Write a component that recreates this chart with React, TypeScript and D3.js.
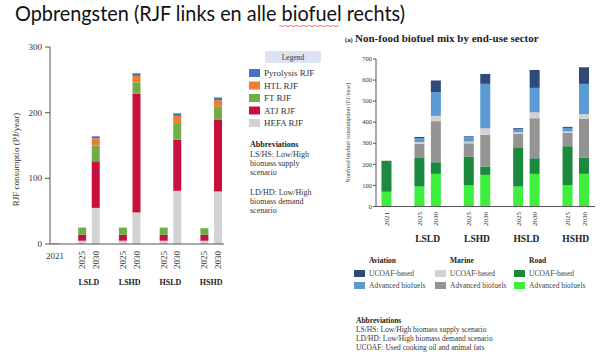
import React from "react";
import * as d3 from "d3";

// ---------- data ----------
const yearLabels = ["2021", "2025", "2030", "2025", "2030", "2025", "2030", "2025", "2030"];
const slots = [0, 2, 3, 5, 6, 8, 9, 11, 12];
const scenarios = ["LSLD", "LSHD", "HSLD", "HSHD"];

// Left: RJF consumption (PJ/year), bottom -> top
const leftSeriesNames = ["HEFA RJF", "ATJ RJF", "FT RJF", "HTL RJF", "Pyrolysis RJF"];
const leftColors = ["#d3d3d3", "#c8103e", "#70ad47", "#ed7d31", "#4472c4"];
const hefa = [0.8, 5, 55, 5, 48, 5, 81, 5, 80];
const atj = [0, 9, 71, 9, 181, 9, 78, 9, 109];
const ft = [0.6, 11, 24, 11, 17, 11, 25, 10, 20];
const htl = [0, 0, 11, 0, 10, 0, 11, 0, 10];
const pyro = [0, 0, 3, 0, 4, 0, 4, 0, 4];
const leftTicks = [0, 100, 200, 300];

// Right: non-food biofuel consumption (PJ/year), bottom -> top
const rightSeriesNames = [
  "Road Advanced biofuels",
  "Road UCOAF-based",
  "Marine Advanced biofuels",
  "Marine UCOAF-based",
  "Aviation Advanced biofuels",
  "Aviation UCOAF-based",
];
const rightColors = ["#3df03d", "#1b8a3e", "#949494", "#d2d2d2", "#5b9bd5", "#2f4a78"];
const roadAdv = [70, 95, 155, 100, 150, 95, 155, 100, 155];
const roadUco = [146, 135, 55, 137, 40, 186, 74, 186, 76];
const marAdv = [0, 68, 195, 63, 150, 64, 190, 63, 185];
const marUco = [4, 8, 25, 8, 31, 7, 28, 7, 23];
const avAdv = [0, 19, 113, 21, 211, 16, 116, 17, 143];
const avUco = [0, 5, 55, 4, 47, 4, 85, 5, 79];
const rightTicks = [0, 100, 200, 300, 400, 500, 600, 700];

const legendGroups = ["Aviation", "Marine", "Road"];
const legendItems = ["UCOAF-based", "Advanced biofuels"];
const legendGroupColors = [
  ["#2f4a78", "#5b9bd5"],
  ["#d2d2d2", "#949494"],
  ["#1b8a3e", "#3df03d"],
];

const SERIF = "'Liberation Serif', 'DejaVu Serif', serif";

function stackRows(series: number[][]) {
  return yearLabels.map((_, i) => {
    const row: Record<string, number> = {};
    series.forEach((s, k) => (row["s" + k] = s[i]));
    return row;
  });
}

export default function App() {
  // ---------- left chart ----------
  const xL = d3.scaleLinear().domain([0, 12]).range([55, 218]);
  const yL = d3.scaleLinear().domain([0, 300]).range([244, 47]);
  const leftKeys = leftSeriesNames.map((_, k) => "s" + k);
  const leftStack = d3.stack<Record<string, number>>().keys(leftKeys)(
    stackRows([hefa, atj, ft, htl, pyro])
  );
  const bwL = 8;

  // ---------- right chart ----------
  const xR = d3.scaleLinear().domain([0, 12]).range([386.5, 584]);
  const yR = d3.scaleLinear().domain([0, 700]).range([206.5, 59]);
  const rightKeys = rightSeriesNames.map((_, k) => "s" + k);
  const rightStack = d3.stack<Record<string, number>>().keys(rightKeys)(
    stackRows([roadAdv, roadUco, marAdv, marUco, avAdv, avUco])
  );
  const bwR = 10;

  const legendLeft = [...leftSeriesNames].reverse();
  const legendLeftColors = [...leftColors].reverse();

  return (
    <svg
      width={600}
      height={356}
      style={{ position: "absolute", left: 0, top: 0, background: "#fff" }}
      fontFamily={SERIF}
    >
      <rect width={600} height={356} fill="#fff" />
      {/* Slide title */}
      <text
        x={15}
        y={21}
        fontFamily="Lato, 'Open Sans', sans-serif"
        fontSize={21}
        fill="#111"
        textLength={390}
        lengthAdjust="spacingAndGlyphs"
      >
        Opbrengsten (RJF links en alle biofuel rechts)
      </text>
      <path
        d={d3.range(0, 62, 3).map((d, i) => `${i === 0 ? "M" : "L"}${279 + d},${i % 2 ? 26.5 : 25.5}`).join("")}
        fill="none"
        stroke="#e04040"
        strokeWidth={0.7}
      />

      {/* ===== Left chart ===== */}
      {leftStack.map((layer, k) =>
        layer.map((d, i) =>
          d[1] - d[0] > 0 ? (
            <rect
              key={`l${k}-${i}`}
              x={xL(slots[i]) - bwL / 2}
              y={yL(d[1])}
              width={bwL}
              height={yL(d[0]) - yL(d[1])}
              fill={i === 0 ? "#9a9a60" : leftColors[k]}
            />
          ) : null
        )
      )}
      <line x1={50} x2={50} y1={yL(300)} y2={yL(0)} stroke="#555" strokeWidth={1} />
      <line x1={50} x2={224} y1={yL(0)} y2={yL(0)} stroke="#555" strokeWidth={1} />
      {leftTicks.map((t) => (
        <g key={`lt${t}`}>
          <line x1={45} x2={50} y1={yL(t)} y2={yL(t)} stroke="#555" />
          <text x={42} y={yL(t) + 3} fontSize={9} textAnchor="end" fill="#333">
            {t}
          </text>
        </g>
      ))}
      <text
        transform={`translate(19,${(yL(0) + yL(300)) / 2 + 14}) rotate(-90)`}
        fontSize={9}
        textAnchor="middle"
        fill="#333"
      >
        RJF consumptio (PJ/year)
      </text>
      {yearLabels.map((y, i) =>
        i === 0 ? (
          <text key={`ly${i}`} x={xL(slots[i])} y={259} fontSize={9} textAnchor="middle" fill="#333">
            {y}
          </text>
        ) : (
          <text
            key={`ly${i}`}
            transform={`translate(${xL(slots[i]) + 3},${260}) rotate(-90)`}
            fontSize={9}
            textAnchor="middle"
            fill="#333"
          >
            {y}
          </text>
        )
      )}
      {scenarios.map((s, g) => (
        <text
          key={`ls${s}`}
          x={(xL(slots[1 + 2 * g]) + xL(slots[2 + 2 * g])) / 2}
          y={285}
          fontSize={8}
          fontWeight="bold"
          textAnchor="middle"
          fill="#222"
        >
          {s}
        </text>
      ))}

      {/* Left legend */}
      <rect x={265} y={51} width={56} height={12} rx={2} fill="#dde3f1" />
      <text x={293} y={60} fontSize={7.5} textAnchor="middle" fill="#333">
        Legend
      </text>
      {legendLeft.map((name, i) => (
        <g key={`ll${name}`}>
          <rect x={249} y={69 + i * 12.5} width={11} height={8} fill={legendLeftColors[i]} />
          <text x={264} y={76 + i * 12.5} fontSize={9} fill="#333">
            {name}
          </text>
        </g>
      ))}
      <text x={250} y={147} fontSize={8} fontWeight="bold" fill="#222">
        Abbreviations
      </text>
      {["LS/HS: Low/High", "biomass supply", "scenario"].map((t, i) => (
        <text key={`la${i}`} x={250} y={157 + i * 9} fontSize={8} fill="#333">
          {t}
        </text>
      ))}
      {["LD/HD: Low/High", "biomass demand", "scenario"].map((t, i) => (
        <text key={`lb${i}`} x={250} y={195 + i * 9} fontSize={8} fill="#333">
          {t}
        </text>
      ))}

      {/* ===== Right chart ===== */}
      <text x={345} y={42} fontSize={6.5} fontWeight="bold" fill="#222">
        (a)
      </text>
      <text x={355} y={42} fontSize={11} fontWeight="bold" fill="#222">
        Non-food biofuel mix by end-use sector
      </text>
      {rightStack.map((layer, k) =>
        layer.map((d, i) =>
          d[1] - d[0] > 0 ? (
            <rect
              key={`r${k}-${i}`}
              x={xR(slots[i]) - bwR / 2}
              y={yR(d[1])}
              width={bwR}
              height={yR(d[0]) - yR(d[1])}
              fill={rightColors[k]}
            />
          ) : null
        )
      )}
      <line x1={376} x2={376} y1={yR(700)} y2={yR(0)} stroke="#555" strokeWidth={1} />
      <line x1={376} x2={595} y1={yR(0)} y2={yR(0)} stroke="#555" strokeWidth={1} />
      {rightTicks.map((t) => (
        <g key={`rt${t}`}>
          <line x1={373} x2={376} y1={yR(t)} y2={yR(t)} stroke="#555" />
          <text x={372} y={yR(t) + 2.2} fontSize={6.5} textAnchor="end" fill="#333">
            {t}
          </text>
        </g>
      ))}
      <text
        transform={`translate(350,${(yR(0) + yR(700)) / 2}) rotate(-90)`}
        fontSize={6.3}
        textAnchor="middle"
        fill="#444"
      >
        Nonfood biofuel consumption (PJ/year)
      </text>
      {yearLabels.map((y, i) => (
        <text
          key={`ry${i}`}
          transform={`translate(${xR(slots[i]) + 2.5},${219}) rotate(-90)`}
          fontSize={7}
          textAnchor="middle"
          fill="#333"
        >
          {y}
        </text>
      ))}
      {scenarios.map((s, g) => (
        <text
          key={`rs${s}`}
          x={(xR(slots[1 + 2 * g]) + xR(slots[2 + 2 * g])) / 2}
          y={242}
          fontSize={9.5}
          fontWeight="bold"
          textAnchor="middle"
          fill="#222"
        >
          {s}
        </text>
      ))}

      {/* Right legend */}
      {legendGroups.map((g, c) => {
        const sx = [354, 435, 514][c];
        return (
          <g key={`rg${g}`}>
            <text x={sx + 15} y={263} fontSize={7.5} fontWeight="bold" fill="#222">
              {g}
            </text>
            {legendItems.map((it, r) => (
              <g key={`ri${g}${r}`}>
                <rect x={sx} y={270 + r * 12} width={11} height={7} fill={legendGroupColors[c][r]} />
                <text x={sx + 15} y={276 + r * 12} fontSize={7.5} fill="#444">
                  {it}
                </text>
              </g>
            ))}
          </g>
        );
      })}
      <text x={356} y={323} fontSize={7.5} fontWeight="bold" fill="#222">
        Abbreviations
      </text>
      {[
        "LS/HS: Low/High biomass supply scenario",
        "LD/HD: Low/High biomass demand scenario",
        "UCOAF: Used cooking oil and animal fats",
      ].map((t, i) => (
        <text key={`ra${i}`} x={356} y={332 + i * 9} fontSize={7.5} fill="#333">
          {t}
        </text>
      ))}
    </svg>
  );
}
